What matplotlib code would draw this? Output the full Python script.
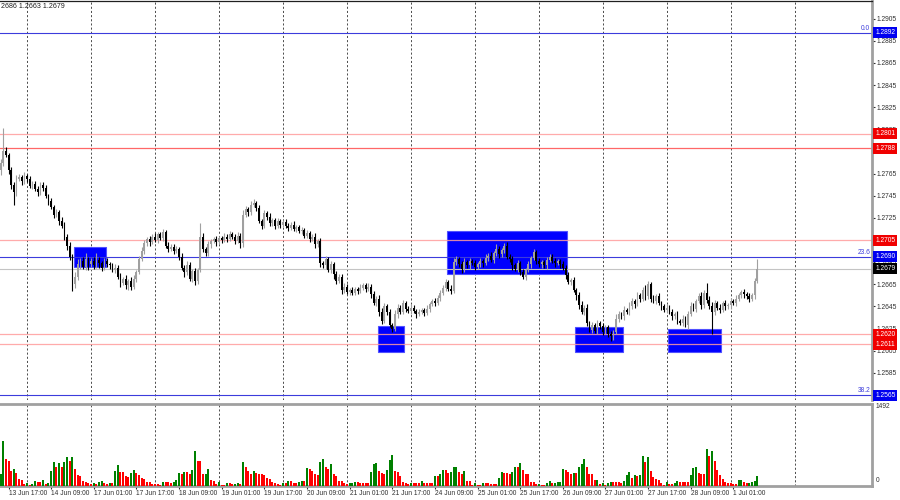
import matplotlib
matplotlib.use("Agg")
import matplotlib.pyplot as plt
import matplotlib.transforms as mtransforms
from matplotlib.patches import Rectangle
import numpy as np

plt.rcParams["font.family"] = ["Liberation Sans", "DejaVu Sans"]

# ---- data (GBPUSD H1) --------------------------------------------------------
PIP = 0.0001
open_first = 1.2768
close = [
    1.2775, 1.2785, 1.2782, 1.2768, 1.2755, 1.2748, 1.2760, 1.2762, 1.2758, 1.2763,  # 0
    1.2760, 1.2754, 1.2756, 1.2751, 1.2748, 1.2755, 1.2752, 1.2745, 1.2740, 1.2735,  # 10
    1.2728, 1.2730, 1.2722, 1.2718, 1.2708, 1.2700, 1.2690, 1.2665, 1.2672, 1.2683,  # 20
    1.2686, 1.2681, 1.2688, 1.2683, 1.2686, 1.2682, 1.2687, 1.2684, 1.2680, 1.2686,  # 30
    1.2683, 1.2682, 1.2678, 1.2680, 1.2672, 1.2666, 1.2670, 1.2664, 1.2668, 1.2663,  # 40
    1.2670, 1.2676, 1.2688, 1.2695, 1.2702, 1.2706, 1.2703, 1.2708, 1.2705, 1.2710,  # 50
    1.2707, 1.2712, 1.2700, 1.2697, 1.2699, 1.2695, 1.2697, 1.2690, 1.2680, 1.2676,  # 60
    1.2682, 1.2670, 1.2677, 1.2668, 1.2678, 1.2708, 1.2697, 1.2693, 1.2701, 1.2704,  # 70
    1.2706, 1.2703, 1.2707, 1.2705, 1.2708, 1.2706, 1.2710, 1.2708, 1.2704, 1.2709,  # 80
    1.2702, 1.2728, 1.2733, 1.2730, 1.2737, 1.2738, 1.2734, 1.2722, 1.2718, 1.2729,  # 90
    1.2726, 1.2720, 1.2723, 1.2718, 1.2722, 1.2719, 1.2721, 1.2718, 1.2716, 1.2719,  # 100
    1.2715, 1.2717, 1.2713, 1.2714, 1.2709, 1.2711, 1.2706, 1.2708, 1.2701, 1.2704,  # 110
    1.2684, 1.2682, 1.2688, 1.2678, 1.2683, 1.2674, 1.2668, 1.2672, 1.2660, 1.2663,  # 120
    1.2658, 1.2660, 1.2657, 1.2661, 1.2659, 1.2662, 1.2664, 1.2661, 1.2663, 1.2656,  # 130
    1.2648, 1.2652, 1.2640, 1.2632, 1.2645, 1.2640, 1.2628, 1.2625, 1.2638, 1.2644,  # 140
    1.2640, 1.2648, 1.2643, 1.2641, 1.2644, 1.2641, 1.2638, 1.2640, 1.2642, 1.2639,  # 150
    1.2643, 1.2647, 1.2650, 1.2648, 1.2653, 1.2657, 1.2662, 1.2667, 1.2661, 1.2659,  # 160
    1.2685, 1.2688, 1.2683, 1.2679, 1.2685, 1.2682, 1.2686, 1.2684, 1.2681, 1.2683,  # 170
    1.2686, 1.2684, 1.2689, 1.2691, 1.2687, 1.2693, 1.2697, 1.2692, 1.2696, 1.2700,  # 180
    1.2690, 1.2688, 1.2682, 1.2679, 1.2684, 1.2676, 1.2672, 1.2678, 1.2683, 1.2689,  # 190
    1.2694, 1.2686, 1.2683, 1.2685, 1.2682, 1.2687, 1.2690, 1.2686, 1.2684, 1.2686,  # 200
    1.2683, 1.2680, 1.2673, 1.2667, 1.2669, 1.2660, 1.2655, 1.2646, 1.2640, 1.2644,  # 210
    1.2630, 1.2624, 1.2628, 1.2623, 1.2630, 1.2627, 1.2622, 1.2626, 1.2620, 1.2618,  # 220
    1.2622, 1.2634, 1.2638, 1.2636, 1.2642, 1.2640, 1.2645, 1.2650, 1.2647, 1.2655,  # 230
    1.2652, 1.2660, 1.2654, 1.2665, 1.2652, 1.2650, 1.2654, 1.2648, 1.2645, 1.2642,  # 240
    1.2644, 1.2640, 1.2636, 1.2638, 1.2632, 1.2630, 1.2634, 1.2628, 1.2638, 1.2645,  # 250
    1.2643, 1.2650, 1.2654, 1.2646, 1.2657, 1.2651, 1.2645, 1.2640, 1.2648, 1.2644,  # 260
    1.2642, 1.2648, 1.2645, 1.2646, 1.2650, 1.2648, 1.2652, 1.2655, 1.2658, 1.2656,  # 270
    1.2654, 1.2652, 1.2655, 1.2668, 1.2679,                                          # 280
]
# wick lengths beyond the body, in pips
wick_up = [
    3, 21, 4, 2, 3, 2, 4, 3, 2, 3, 2, 3, 2, 2, 3, 2, 2, 3, 2, 3,
    2, 3, 2, 4, 3, 2, 3, 2, 4, 5, 3, 4, 5, 2, 3, 4, 6, 3, 2, 3,
    3, 2, 2, 3, 2, 3, 2, 3, 2, 4, 3, 2, 3, 4, 3, 2, 3, 2, 3, 2,
    2, 3, 2, 3, 2, 2, 3, 2, 3, 2, 4, 3, 2, 3, 2, 12, 3, 2, 3, 2,
    2, 3, 2, 2, 3, 2, 3, 2, 2, 3, 2, 4, 3, 2, 3, 4, 2, 3, 2, 3,
    2, 3, 2, 2, 3, 2, 2, 3, 2, 2, 3, 2, 2, 3, 2, 3, 2, 2, 3, 2,
    3, 2, 3, 2, 3, 2, 3, 2, 2, 3, 2, 2, 3, 2, 2, 3, 2, 2, 3, 2,
    3, 2, 3, 4, 3, 2, 3, 2, 4, 3, 2, 3, 2, 2, 3, 2, 2, 3, 2, 2,
    3, 2, 2, 3, 2, 3, 2, 3, 2, 3, 4, 3, 2, 3, 4, 2, 3, 2, 3, 2,
    3, 2, 3, 2, 3, 2, 4, 3, 2, 2, 3, 2, 3, 2, 3, 2, 3, 2, 3, 2,
    3, 2, 3, 2, 2, 3, 2, 2, 3, 2, 2, 3, 2, 3, 2, 3, 2, 3, 4, 2,
    3, 2, 3, 2, 3, 2, 3, 2, 2, 3, 2, 4, 3, 2, 3, 2, 4, 3, 2, 3,
    2, 3, 4, 3, 2, 3, 2, 3, 2, 2, 3, 2, 3, 2, 3, 2, 3, 2, 3, 4,
    3, 2, 3, 4, 3, 9, 3, 4, 3, 2, 3, 2, 3, 2, 3, 2, 3, 2, 2, 3,
    2, 3, 2, 3, 9,
]
wick_dn = [
    4, 3, 2, 3, 4, 11, 3, 2, 3, 2, 3, 2, 3, 2, 3, 2, 3, 2, 3, 2,
    3, 2, 3, 2, 3, 4, 3, 6, 3, 3, 4, 2, 3, 5, 2, 3, 2, 4, 3, 2,
    2, 3, 2, 3, 2, 3, 2, 3, 4, 3, 2, 3, 2, 2, 3, 2, 3, 2, 2, 3,
    2, 3, 2, 3, 2, 3, 2, 3, 2, 4, 3, 2, 3, 4, 3, 2, 3, 2, 2, 3,
    2, 3, 2, 3, 2, 3, 2, 2, 3, 2, 4, 3, 2, 3, 2, 2, 3, 2, 3, 2,
    3, 2, 2, 3, 2, 3, 2, 2, 3, 2, 2, 3, 2, 3, 2, 2, 3, 2, 3, 2,
    3, 2, 3, 2, 3, 4, 3, 2, 4, 3, 2, 3, 2, 2, 3, 2, 2, 3, 2, 3,
    2, 3, 4, 3, 2, 3, 2, 3, 2, 3, 2, 2, 3, 2, 3, 2, 3, 2, 2, 3,
    2, 3, 2, 3, 2, 3, 2, 3, 2, 3, 2, 3, 2, 4, 3, 2, 3, 2, 3, 2,
    2, 3, 2, 3, 2, 3, 2, 3, 2, 3, 2, 3, 4, 2, 3, 3, 2, 3, 2, 3,
    2, 3, 2, 3, 2, 3, 2, 2, 3, 2, 3, 2, 3, 2, 3, 2, 4, 3, 2, 3,
    3, 2, 3, 2, 3, 2, 3, 2, 3, 4, 3, 2, 3, 2, 3, 2, 3, 2, 3, 2,
    3, 2, 3, 2, 3, 2, 3, 2, 3, 2, 3, 2, 3, 2, 3, 2, 3, 2, 3, 2,
    2, 3, 2, 3, 2, 3, 2, 20, 3, 2, 3, 2, 3, 2, 3, 2, 3, 2, 2, 3,
    2, 3, 2, 3, 2,
]
volume = [
    217, 837, 496, 452, 279, 310, 248, 124, 105, 31, 62, 20, 31, 93, 75, 70, 105, 43, 56, 279,
    434, 341, 415, 353, 434, 527, 465, 540, 310, 205, 186, 93, 74, 62, 45, 55, 40, 80, 90, 50,
    35, 62, 55, 279, 390, 260, 260, 180, 167, 248, 291, 248, 205, 155, 124, 80, 74, 43, 31, 31,
    12, 80, 80, 80, 62, 74, 105, 248, 230, 260, 260, 217, 291, 639, 465, 465, 217, 230, 304, 105,
    93, 31, 74, 19, 19, 62, 50, 37, 40, 56, 45, 446, 353, 279, 217, 279, 248, 230, 217, 205,
    143, 124, 80, 56, 31, 19, 62, 60, 93, 93, 62, 62, 80, 93, 93, 329, 304, 279, 217, 205,
    434, 496, 353, 310, 403, 217, 186, 93, 93, 56, 43, 50, 56, 68, 68, 50, 50, 50, 50, 260,
    403, 415, 279, 248, 217, 291, 484, 570, 279, 260, 186, 74, 62, 31, 62, 56, 56, 56, 93, 56,
    56, 56, 56, 186, 186, 217, 298, 298, 248, 260, 341, 353, 260, 230, 279, 93, 93, 19, 62, 12,
    12, 56, 56, 50, 43, 31, 31, 143, 267, 236, 236, 217, 260, 353, 341, 428, 291, 217, 217, 80,
    80, 31, 43, 25, 12, 50, 93, 50, 62, 74, 80, 310, 291, 260, 230, 236, 236, 353, 403, 496,
    353, 230, 230, 105, 112, 43, 56, 19, 56, 80, 80, 74, 74, 62, 93, 205, 260, 155, 205, 192,
    205, 558, 434, 527, 279, 167, 136, 105, 62, 19, 68, 31, 31, 62, 87, 74, 68, 68, 68, 205,
    329, 341, 248, 217, 217, 682, 558, 651, 465, 298, 198, 124, 68, 56, 50, 43, 31, 105, 118, 74,
    56, 62, 80, 90, 180,
]
VOL_MAX = 1492

# time axis: label every 16 bars, grid at each midnight (every 24 bars)
label_bars = [3, 19, 35, 51, 67, 83, 99, 115, 131, 147, 163, 179, 195, 211, 227, 243, 259, 275]
label_text = ["13 Jun 17:00", "14 Jun 09:00", "17 Jun 01:00", "17 Jun 17:00", "18 Jun 09:00",
              "19 Jun 01:00", "19 Jun 17:00", "20 Jun 09:00", "21 Jun 01:00", "21 Jun 17:00",
              "24 Jun 09:00", "25 Jun 01:00", "25 Jun 17:00", "26 Jun 09:00", "27 Jun 01:00",
              "27 Jun 17:00", "28 Jun 09:00", "1 Jul 01:00"]
grid_bars = list(range(10, 299, 24))

# zones: (first bar, last bar, top price, bottom price)
zone_x0 = [28, 142, 168, 216, 251]
zone_x1 = [39, 151, 212, 233, 270]
zone_top = [1.2699, 1.2627, 1.2713, 1.2626, 1.2625]
zone_bot = [1.2681, 1.2604, 1.2674, 1.2604, 1.2604]

# horizontal levels
red_levels = [1.2801, 1.2788, 1.2705, 1.2620, 1.2611]
red_colors = ["#ff9c9c", "#ff4c4c", "#ff9c9c", "#ff9c9c", "#ff9c9c"]
fib_levels = [1.2892, 1.2690, 1.2565]
fib_names = ["0.0", "23.6", "38.2"]
last_price = 1.2679
price_ticks = [1.2585, 1.2605, 1.2625, 1.2645, 1.2665, 1.2685, 1.2705, 1.2725, 1.2745,
               1.2765, 1.2785, 1.2805, 1.2825, 1.2845, 1.2865, 1.2885, 1.2905]

# ---- figure --------------------------------------------------------------------
W, H = 900, 500
fig = plt.figure(figsize=(9, 5), dpi=100)


def px_box(x0, y0, x1, y1):
    return [x0 / W, 1 - y1 / H, (x1 - x0) / W, (y1 - y0) / H]


axp = fig.add_axes(px_box(0, 1, 872, 400))
axv = fig.add_axes(px_box(0, 404, 872, 486))
XL = (-0.19, 327.0)
FS = 4.8
GRAY = "#a0a0a0"

n = len(close)
x = np.arange(n)
c = np.array(close)
o = np.r_[open_first, c[:-1]]
hi = np.maximum(o, c) + np.array(wick_up) * PIP
lo = np.minimum(o, c) - np.array(wick_dn) * PIP
up = c >= o
ccol = np.where(up, "#a0a0a0", "#000000")

# ---- price panel ---------------------------------------------------------------
for b in grid_bars:
    axp.axvline(b, color="#303030", lw=0.6, ls=(0, (2.5, 2.5)), zorder=0.5)

for a, b, t, btm in zip(zone_x0, zone_x1, zone_top, zone_bot):
    axp.add_patch(Rectangle((a - 0.5, btm), b - a + 1, t - btm, fc="#0000ff",
                            ec="#5050ff", lw=0.8, zorder=1))

for lv, col in zip(red_levels, red_colors):
    axp.axhline(lv, color=col, lw=0.9, alpha=0.85, zorder=2)
for lv in fib_levels:
    axp.axhline(lv, color="#3c3cdc", lw=0.8, zorder=2)
axp.axhline(last_price, color="#c4c4c4", lw=0.8, zorder=2)

axp.vlines(x, lo, hi, colors=ccol, lw=0.8, zorder=3)
body = np.maximum(np.abs(c - o), 0.00004)
axp.bar(x, body, bottom=np.minimum(o, c), width=0.7, color=ccol, lw=0, zorder=4)

axp.set_xlim(*XL)
axp.set_ylim(1.25605, 1.29209)
axp.set_xticks([])
axp.yaxis.tick_right()
axp.set_yticks(price_ticks)
axp.set_yticklabels([f"{v:.4f}" for v in price_ticks])
axp.tick_params(axis="y", labelsize=FS, length=2, pad=1.5, colors="#303030")
for s in ["left", "bottom"]:
    axp.spines[s].set_visible(False)
axp.spines["top"].set_color("#202020")
axp.spines["top"].set_linewidth(0.9)
axp.spines["right"].set_color(GRAY)
axp.spines["right"].set_linewidth(2)

trans = mtransforms.blended_transform_factory(axp.transAxes, axp.transData)


def price_tag(val, fc):
    axp.text(1.0035, val, f"{val:.4f}", transform=trans, ha="left", va="center",
             fontsize=FS, color="white", clip_on=False, zorder=10,
             bbox=dict(boxstyle="square,pad=0.3", fc=fc, ec="none"))


for lv in red_levels:
    price_tag(lv, "#f00000")
for lv, name in zip(fib_levels, fib_names):
    price_tag(lv, "#0000f0")
    axp.text(0.998, lv + 0.00005, name, transform=trans, ha="right", va="bottom",
             fontsize=FS, color="#3c3cdc", zorder=5)
price_tag(last_price, "#000000")

fig.text(1 / W, 1 - 7 / H, "2686 1.2663 1.2679", fontsize=FS + 0.3, va="center",
         color="#202020")

# ---- volume panel --------------------------------------------------------------
v = np.array(volume)
vcol = np.where(np.r_[True, v[1:] > v[:-1]], "#008000", "#ff0000")
for b in grid_bars:
    axv.axvline(b, color="#303030", lw=0.6, ls=(0, (2.5, 2.5)), zorder=0.5)
axv.bar(x, v, width=0.75, color=vcol, lw=0, zorder=3)
axv.set_xlim(*XL)
axv.set_ylim(0, 1510)
axv.set_yticks([])
axv.set_xticks(label_bars)
axv.set_xticklabels(label_text, ha="left")
axv.tick_params(axis="x", labelsize=FS, length=2, pad=1.2, colors="#303030")
axv.spines["left"].set_visible(False)
for s in ["top", "bottom", "right"]:
    axv.spines[s].set_color(GRAY)
    axv.spines[s].set_linewidth(2)
fig.text(876 / W, 1 - 407 / H, f"{VOL_MAX}", fontsize=FS, va="center", color="#303030")
fig.text(876 / W, 1 - 481 / H, "0", fontsize=FS, va="center", color="#303030")

fig.savefig("out.png", dpi=100, facecolor="white")
